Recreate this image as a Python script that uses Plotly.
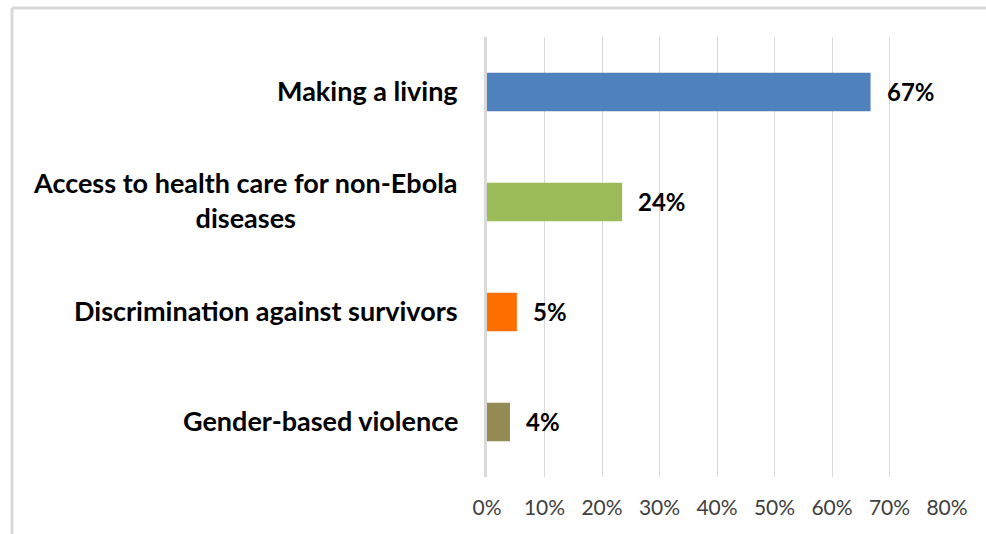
import plotly.graph_objects as go

categories = ["Making a living", "Access to health care for non-Ebola<br>diseases",
              "Discrimination against survivors", "Gender-based violence"]
values = [66.7, 23.5, 5.2, 4.0]
colors = ["#4F81BD", "#9BBB59", "#FF6F00", "#948A54"]
tick_values = [0, 10, 20, 30, 40, 50, 60, 70, 80]
tick_labels = [f"{v}%" for v in tick_values]

W, H = 986, 534
L, R, T, B = 487, 39, 37, 57
pw, ph = W - L - R, H - T - B
FONT = "Lato"

fig = go.Figure()
fig.add_trace(go.Bar(
    x=values, y=categories, orientation="h",
    marker=dict(color=colors, line=dict(width=0)),
    width=0.35, hoverinfo="skip",
))

annotations = []
for c in categories:
    annotations.append(dict(
        x=0, xref="paper", y=c, yref="y", text=f"<b>{c}</b>",
        xanchor="right", yanchor="middle", xshift=-27, yshift=2, align="center",
        showarrow=False, font=dict(family=FONT, size=27, color="#000000"),
    ))
for c, v in zip(categories, values):
    annotations.append(dict(
        x=v, xref="x", y=c, yref="y", text=f"<b>{v:.0f}%</b>",
        xanchor="left", yanchor="middle", xshift=14, yshift=1,
        showarrow=False, font=dict(family=FONT, size=24, color="#000000"),
    ))

# chart border (top and left edges visible)
bx = (12 - L) / pw
by = (H - B - 8) / ph
shapes = [
    dict(type="line", xref="paper", yref="paper", x0=bx, x1=(W - L + 10) / pw, y0=by, y1=by,
         line=dict(color="#D9D9D9", width=3)),
    dict(type="line", xref="paper", yref="paper", x0=bx, x1=bx, y0=by, y1=-(B + 10) / ph,
         line=dict(color="#D9D9D9", width=3)),
]

fig.update_layout(
    width=W, height=H,
    margin=dict(l=L, r=R, t=T, b=B, pad=0),
    paper_bgcolor="white", plot_bgcolor="white",
    showlegend=False, bargap=0.65,
    annotations=annotations, shapes=shapes,
    font=dict(family=FONT, size=21, color="#404040"),
    xaxis=dict(
        range=[0, 80], tickvals=tick_values, ticktext=tick_labels,
        showgrid=True, gridcolor="#D9D9D9", gridwidth=1,
        zeroline=False, showline=False, ticks="", ticklabelstandoff=16,
        tickfont=dict(family=FONT, size=21, color="#404040"),
        fixedrange=True,
    ),
    yaxis=dict(
        autorange="reversed", showticklabels=False, ticks="",
        showgrid=False, zeroline=False,
        showline=True, linecolor="#D9D9D9", linewidth=3,
        fixedrange=True,
    ),
)

fig.write_html("out.html", config={"displayModeBar": False})
